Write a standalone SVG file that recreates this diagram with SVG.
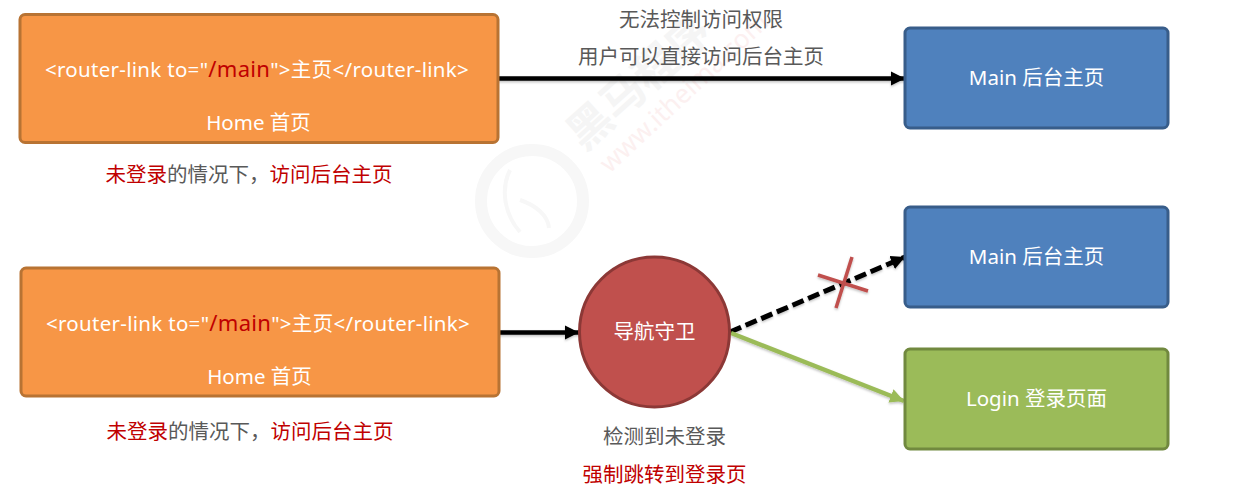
<svg xmlns="http://www.w3.org/2000/svg" width="1248" height="495" viewBox="0 0 1248 495">
<style>
text{font-family:"Noto Sans","Noto Sans CJK SC",sans-serif;font-size:20.500px;text-anchor:middle}
.w{fill:#fff}.g{fill:#595959}.r{fill:#c00000}
.l{letter-spacing:.3px}.m{font-size:22px}
.or{fill:#f79646;stroke:#b87333;stroke-width:3}
.bl{fill:#4f81bd;stroke:#385d8a;stroke-width:3}
.gr{fill:#9bbb59;stroke:#71893f;stroke-width:3}
</style>
<defs>
<marker id="ab" markerUnits="userSpaceOnUse" markerWidth="15" markerHeight="16" refX="14" refY="8" orient="auto"><path d="M0 1L14 8L0 15z" fill="#000"/></marker>
<marker id="ag" markerUnits="userSpaceOnUse" markerWidth="15" markerHeight="16" refX="14" refY="8" orient="auto"><path d="M0 1L14 8L0 15z" fill="#9bbb59"/></marker>
<filter id="sh" x="-5%" y="-20%" width="110%" height="140%"><feDropShadow dx="0" dy="1.500" stdDeviation="1" flood-color="#000" flood-opacity=".25"/></filter>
</defs>
<rect width="1248" height="495" fill="#fff"/>
<g id="watermark">
<circle cx="532" cy="201" r="51" fill="none" stroke="#f7f7f7" stroke-width="12"/>
<path d="M510 170C500 190 505 215 520 232M520 200C535 205 548 215 549 228" fill="none" stroke="#f7f7f7" stroke-width="4"/>
<text transform="translate(584 152) rotate(-42)" style="font-size:44px;font-weight:700;fill:#f5f5f5;text-anchor:start">黑马程序</text>
<text transform="translate(690 99) rotate(-43)" style="font-size:26px;fill:#fcf0f0">www.itheima.com</text>
</g>
<g id="connectors" fill="none" stroke-width="4.500" filter="url(#sh)">
<path d="M498 78.500H905" stroke="#000" marker-end="url(#ab)"/>
<path d="M499 332.500H579" stroke="#000" marker-end="url(#ab)"/>
<path d="M730 332L905 257" stroke="#000" stroke-width="5" stroke-dasharray="12 5" marker-end="url(#ab)"/>
<path d="M731 333L904 401" stroke="#9bbb59" marker-end="url(#ag)"/>
<path d="M818 275L868 291M852 257L836 308" stroke="#c0504d" stroke-width="3.500"/>
</g>
<g id="home1">
<rect class="or" x="20" y="14.500" width="478" height="128" rx="5"/>
<text class="w l" x="257" y="77">&lt;router-link to="<tspan class="r m">/main</tspan>"&gt;主页&lt;/router-link&gt;</text>
<text class="w" x="258.500" y="130">Home 首页</text>
</g>
<text class="g" x="249" y="182"><tspan class="r">未登录</tspan>的情况下，<tspan class="r">访问后台主页</tspan></text>
<text class="g" x="701" y="27">无法控制访问权限</text>
<text class="g" x="701" y="64">用户可以直接访问后台主页</text>
<g id="main1">
<rect class="bl" x="905" y="28" width="263" height="100" rx="5"/>
<text class="w" x="1036.500" y="85">Main 后台主页</text>
</g>
<g id="home2">
<rect class="or" x="21" y="268" width="478" height="128" rx="5"/>
<text class="w l" x="258" y="331">&lt;router-link to="<tspan class="r m">/main</tspan>"&gt;主页&lt;/router-link&gt;</text>
<text class="w" x="259.500" y="384">Home 首页</text>
</g>
<text class="g" x="250" y="439"><tspan class="r">未登录</tspan>的情况下，<tspan class="r">访问后台主页</tspan></text>
<g id="guard">
<circle cx="654.500" cy="332" r="75" fill="#c0504d" stroke="#8c3836" stroke-width="3"/>
<text class="w" x="654.500" y="339">导航守卫</text>
</g>
<text class="g" x="664.500" y="444">检测到未登录</text>
<text class="r" x="664.500" y="482">强制跳转到登录页</text>
<g id="main2">
<rect class="bl" x="905" y="207" width="263" height="100" rx="5"/>
<text class="w" x="1036.500" y="264">Main 后台主页</text>
</g>
<g id="login">
<rect class="gr" x="905" y="349" width="263" height="100" rx="5"/>
<text class="w" x="1036.500" y="406">Login 登录页面</text>
</g>
</svg>
